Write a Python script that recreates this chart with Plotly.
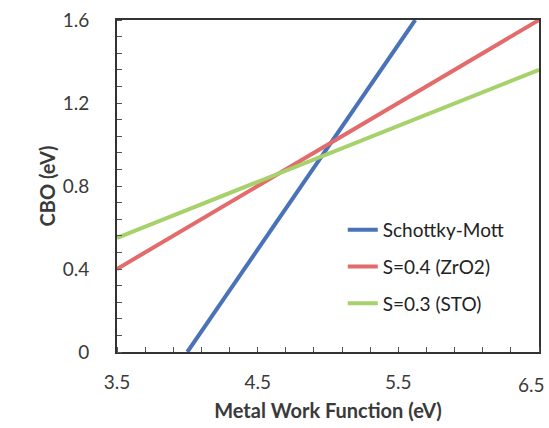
import plotly.graph_objects as go

series_names = ["Schottky-Mott", "S=0.4 (ZrO2)", "S=0.3 (STO)"]
sm_x = [4.0, 5.62]
sm_y = [0.0, 1.6]
zro2_x = [3.5, 6.5]
zro2_y = [0.4, 1.6]
sto_x = [3.5, 6.5]
sto_y = [0.55, 1.36]
colors = ["#4a72b8", "#e36b6b", "#a6d16b"]

x_ticks = [3.5, 4.5, 5.5, 6.5]
y_ticks = [0, 0.4, 0.8, 1.2, 1.6]

fig = go.Figure()
for i, (xs, ys) in enumerate([(sm_x, sm_y), (zro2_x, zro2_y), (sto_x, sto_y)]):
    fig.add_trace(go.Scatter(x=xs, y=ys, mode="lines", name=series_names[i],
                             legendgroup=f"g{i}",
                             line=dict(color=colors[i], width=4)))

font_fam = "Lato, 'Open Sans', sans-serif"
tick_font = dict(family=font_fam, size=19, color="#3a3a3a")

fig.update_layout(
    width=549, height=428,
    margin=dict(l=117, r=8, t=17, b=76),
    paper_bgcolor="white", plot_bgcolor="white",
    font=dict(family=font_fam, size=19, color="#333333"),
    showlegend=True,
    legend=dict(x=0.535, y=0.425, xanchor="left", yanchor="top",
                bgcolor="rgba(0,0,0,0)", font=dict(size=19, color="#222222"),
                tracegroupgap=9),
    xaxis=dict(range=[3.5, 6.5], tickvals=x_ticks[:-1], ticktext=[str(v) for v in x_ticks[:-1]],
               tickfont=tick_font,
               showgrid=False, zeroline=False, showline=True, linecolor="#333333",
               linewidth=2, mirror=True, ticks="", ticklabelstandoff=12,
               minor=dict(dtick=0.2, tick0=3.5, ticks="inside", ticklen=5, tickcolor="#555555", showgrid=False),
               title=dict(text="<b>Metal Work Function (eV)</b>", font=dict(size=20, color="#3a3a3a"), standoff=12)),
    yaxis=dict(range=[0, 1.6], tickvals=y_ticks, ticktext=["0", "0.4", "0.8", "1.2", "1.6"],
               tickfont=tick_font,
               showgrid=False, zeroline=False, showline=True, linecolor="#333333",
               linewidth=2, mirror=True, ticks="", ticklabelstandoff=22,
               minor=dict(dtick=0.08, tick0=0, ticks="inside", ticklen=5, tickcolor="#555555", showgrid=False),
               title=dict(text="<b>CBO (eV)</b>", font=dict(size=20, color="#3a3a3a"), standoff=2)),
    annotations=[dict(x=x_ticks[-1], xref="x", y=0, yref="paper", text=str(x_ticks[-1]),
                      showarrow=False, xanchor="center", yanchor="top", xshift=-8, yshift=-19,
                      font=tick_font)],
)

fig.write_html("out.html")
